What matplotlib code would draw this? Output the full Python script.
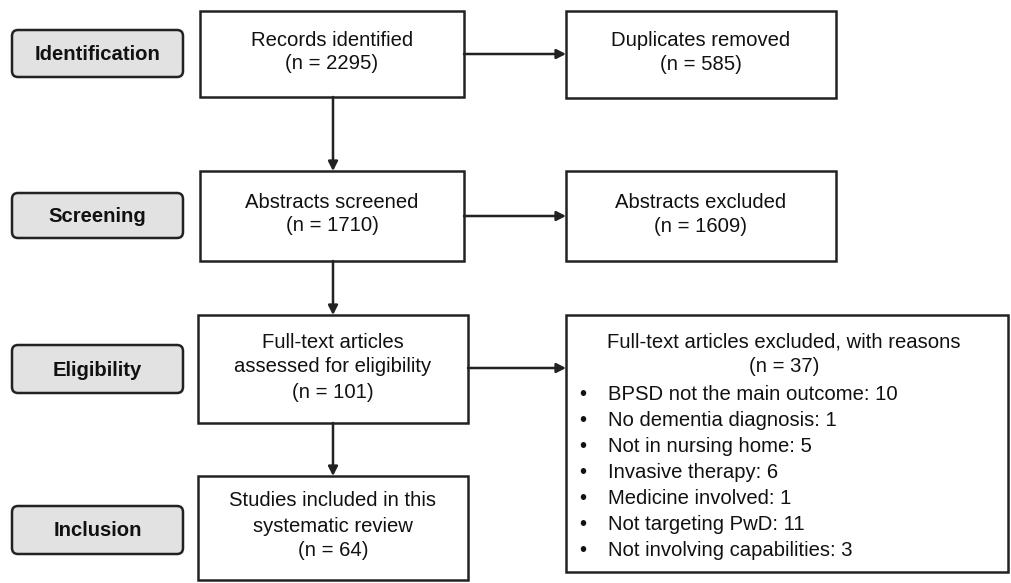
import matplotlib.pyplot as plt
from matplotlib.patches import FancyBboxPatch, Rectangle

plt.rcParams['font.family'] = ['Liberation Sans', 'DejaVu Sans']

stages = ["Identification", "Screening", "Eligibility", "Inclusion"]
main_labels = ["Records identified", "Abstracts screened",
               "Full-text articles\nassessed for eligibility",
               "Studies included in this\nsystematic review"]
main_counts = [2295, 1710, 101, 64]
side_labels = ["Duplicates removed", "Abstracts excluded",
               "Full-text articles excluded, with reasons"]
side_counts = [585, 1609, 37]
reasons = ["BPSD not the main outcome", "No dementia diagnosis",
           "Not in nursing home", "Invasive therapy", "Medicine involved",
           "Not targeting PwD", "Not involving capabilities"]
reason_counts = [10, 1, 5, 6, 1, 11, 3]

# layout in pixel units (x0, y0, x1, y1)
stage_boxes = [(12, 30, 183, 77), (12, 193, 183, 238), (12, 345, 183, 393), (12, 506, 183, 554)]
main_boxes = [(200, 11, 464, 97), (200, 171, 464, 261), (198, 315, 468, 423), (198, 476, 468, 580)]
side_boxes = [(566, 11, 836, 98), (566, 171, 836, 261), (566, 315, 1008, 572)]

fs = 14.6
ec = "#222222"
tc = "#111111"
fig = plt.figure(figsize=(10.12, 5.83), dpi=100)
ax = fig.add_axes([0, 0, 1, 1])
ax.set_xlim(0, 1012)
ax.set_ylim(583, 0)
ax.axis("off")


def lines_in_box(box, text, step=24.5, dy=-2):
    x0, y0, x1, y1 = box
    rows = text.split("\n")
    cy = (y0 + y1) / 2 + dy
    for i, row in enumerate(rows):
        ax.text((x0 + x1) / 2, cy + (i - (len(rows) - 1) / 2) * step, row,
                ha="center", va="center", fontsize=fs, color=tc)


for (x0, y0, x1, y1), name in zip(stage_boxes, stages):
    ax.add_patch(FancyBboxPatch((x0 + 6, y0 + 6), x1 - x0 - 12, y1 - y0 - 12,
                                boxstyle="round,pad=6", fc="#e2e2e2", ec=ec, lw=1.8))
    ax.text((x0 + x1) / 2, (y0 + y1) / 2 + 1, name, ha="center", va="center",
            fontsize=fs, fontweight="bold", color=tc)

for box, lab, n in zip(main_boxes, main_labels, main_counts):
    x0, y0, x1, y1 = box
    ax.add_patch(Rectangle((x0, y0), x1 - x0, y1 - y0, fc="white", ec=ec, lw=1.8))
    lines_in_box(box, f"{lab}\n(n = {n})", step=23.5 if "\n" not in lab else 25)

for i, (box, lab, n) in enumerate(zip(side_boxes, side_labels, side_counts)):
    x0, y0, x1, y1 = box
    ax.add_patch(Rectangle((x0, y0), x1 - x0, y1 - y0, fc="white", ec=ec, lw=1.8))
    if i < 2:
        lines_in_box(box, f"{lab}\n(n = {n})", step=24)
    else:
        ax.text((x0 + x1) / 2 - 3, y0 + 27, lab, ha="center", va="center", fontsize=fs, color=tc)
        ax.text((x0 + x1) / 2 - 3, y0 + 52, f"(n = {n})", ha="center", va="center", fontsize=fs, color=tc)
        for k, (r, c) in enumerate(zip(reasons, reason_counts)):
            y = y0 + 79 + k * 26.1
            ax.text(x0 + 17, y, "\u2022", ha="center", va="center", fontsize=fs, color=tc)
            ax.text(x0 + 42, y, f"{r}: {c}", ha="left", va="center", fontsize=fs, color=tc)

arrow = dict(arrowstyle="-|>,head_length=0.55,head_width=0.28", color=ec, lw=1.8,
             shrinkA=0, shrinkB=0)
# vertical arrows between main boxes
for a, b in zip(main_boxes[:-1], main_boxes[1:]):
    ax.annotate("", xy=(333, b[1]), xytext=(333, a[3]), arrowprops=arrow)
# horizontal arrows to side boxes
for a, b, y in zip(main_boxes, side_boxes, [54, 216, 368]):
    ax.annotate("", xy=(b[0], y), xytext=(a[2], y), arrowprops=arrow)

fig.savefig("out.png", dpi=100)
